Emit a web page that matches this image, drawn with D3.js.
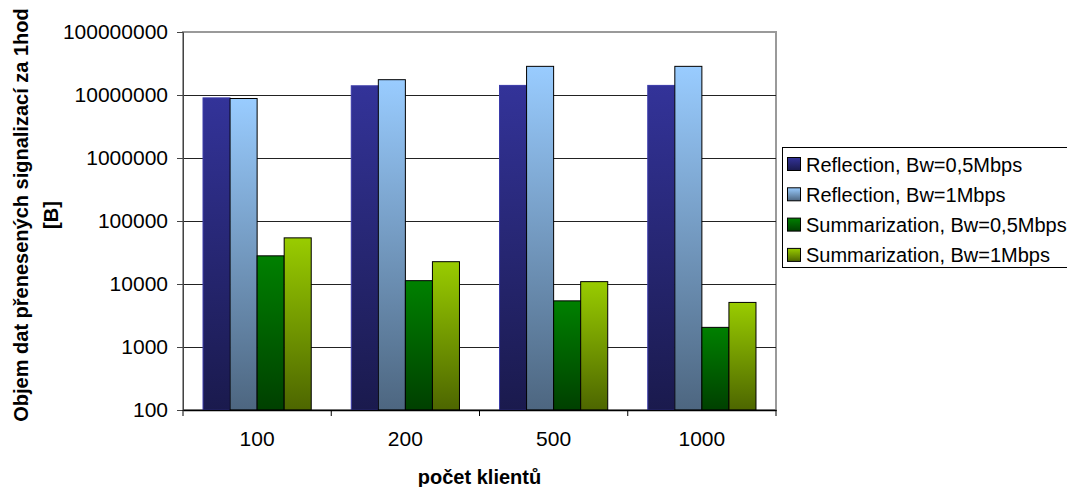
<!DOCTYPE html>
<html><head><meta charset="utf-8">
<script src="https://cdn.jsdelivr.net/npm/d3@7"></script>
<style>body{margin:0;background:#fff}svg{display:block}text{font-family:"Liberation Sans",Arial,sans-serif}</style>
</head><body><svg id="c" width="1067" height="487"></svg>
<script>
const categories = ["100","200","500","1000"];
const seriesNames = ["Reflection, Bw=0,5Mbps","Reflection, Bw=1Mbps","Summarization, Bw=0,5Mbps","Summarization, Bw=1Mbps"];
const reflection05 = [9000000, 14000000, 14200000, 14200000];
const reflection1 = [8800000, 17500000, 28500000, 28500000];
const summarization05 = [28000, 11300, 5400, 2050];
const summarization1 = [54000, 22600, 10900, 5100];
const yTicks = [100,1000,10000,100000,1000000,10000000,100000000];
const colorsTop = ["#333399","#99ccff","#008000","#99cc00"];
const colorsBot = ["#1a1a4d","#4d6680","#004000","#4d6600"];
const strokes = ["#3a3aa8","#000","#000","#000"];
const xTitle = "počet klientů";
const yTitle1 = "Objem dat přenesených signalizací za 1hod";
const yTitle2 = "[B]";

const series = [reflection05, reflection1, summarization05, summarization1];
const svg = d3.select("#c");
const L=183, R=776, T=32, B=410;
const defs = svg.append("defs");
colorsTop.forEach((c,i)=>{
  const g = defs.append("linearGradient").attr("id","g"+i).attr("x1",0).attr("y1",0).attr("x2",0).attr("y2",1);
  g.append("stop").attr("offset","0%").attr("stop-color",c);
  g.append("stop").attr("offset","100%").attr("stop-color",colorsBot[i]);
});
const y = d3.scaleLog().domain([100,1e8]).range([B,T]);
const x = d3.scaleBand().domain(categories).range([L,R]).padding(0);
const x1 = d3.scaleBand().domain(d3.range(4)).range([0,x.bandwidth()]).paddingInner(0).paddingOuter(0.74);

// plot border
svg.append("rect").attr("x",L).attr("y",T).attr("width",R-L).attr("height",B-T)
  .attr("fill","none").attr("stroke","#9a9a9a").attr("stroke-width",2);
// gridlines
svg.append("g").selectAll("line").data(yTicks.slice(1,-1)).join("line")
  .attr("x1",L).attr("x2",R).attr("y1",d=>Math.round(y(d))+0.5).attr("y2",d=>Math.round(y(d))+0.5)
  .attr("stroke","#222").attr("stroke-width",1);

// bars
const g = svg.append("g");
categories.forEach((c,ci)=>{
  series.forEach((s,si)=>{
    g.append("rect")
      .attr("x",x(c)+x1(si)).attr("width",x1.bandwidth())
      .attr("y",y(s[ci])).attr("height",B-y(s[ci]))
      .attr("fill","url(#g"+si+")").attr("stroke",strokes[si]).attr("stroke-width",1);
  });
});

// y axis
const ya = svg.append("g").attr("transform",`translate(${L},0)`)
  .call(d3.axisLeft(y).tickValues(yTicks).tickFormat(d3.format("d")).tickSize(6).tickPadding(9));
ya.select(".domain").attr("stroke","#444");
ya.selectAll(".tick line").attr("stroke","#444");
ya.selectAll("text").attr("font-size","21px").attr("fill","#000").attr("font-family","Liberation Sans, Arial, sans-serif");

// x axis
const xa = svg.append("g").attr("transform",`translate(0,${B})`)
  .call(d3.axisBottom(x).tickSize(0).tickPadding(21));
xa.select(".domain").attr("stroke","#000").attr("stroke-width",1.5);
xa.selectAll("text").attr("font-size","21px").attr("fill","#000").attr("font-family","Liberation Sans, Arial, sans-serif");
svg.append("g").selectAll("line").data(categories.map(c=>x(c)).concat([R])).join("line")
  .attr("x1",d=>d).attr("x2",d=>d).attr("y1",B).attr("y2",B+6).attr("stroke","#000");

// titles
svg.append("text").attr("x",(L+R)/2).attr("y",484).attr("text-anchor","middle")
  .attr("font-size","20px").attr("font-weight","bold").text(xTitle);
svg.append("text").attr("transform","translate(28,215) rotate(-90)").attr("text-anchor","middle")
  .attr("font-size","20px").attr("font-weight","bold").text(yTitle1);
svg.append("text").attr("transform","translate(58,215) rotate(-90)").attr("text-anchor","middle")
  .attr("font-size","20px").attr("font-weight","bold").text(yTitle2);

// legend
const lg = svg.append("g");
lg.append("rect").attr("x",782.5).attr("y",147.5).attr("width",300).attr("height",120)
  .attr("fill","#fff").attr("stroke","#000");
seriesNames.forEach((n,i)=>{
  const cy = 164 + i*30.3;
  lg.append("rect").attr("x",787.5).attr("y",cy-6.5).attr("width",13).attr("height",13)
    .attr("fill","url(#g"+i+")").attr("stroke","#000");
  lg.append("text").attr("x",806).attr("y",cy+7.5).attr("font-size","20px").text(n);
});
</script></body></html>
